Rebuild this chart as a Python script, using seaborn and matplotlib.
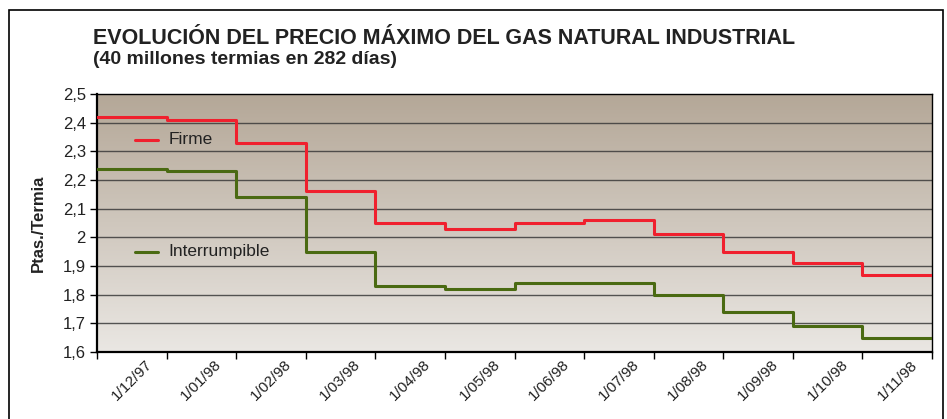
import numpy as np
import matplotlib
matplotlib.use("Agg")
import matplotlib.pyplot as plt
from matplotlib.patches import Rectangle
import seaborn as sns

# Monthly maximum price (Ptas./termia), one value per month
months = ["1/12/97", "1/01/98", "1/02/98", "1/03/98", "1/04/98", "1/05/98",
          "1/06/98", "1/07/98", "1/08/98", "1/09/98", "1/10/98", "1/11/98"]
firme = [2.42, 2.41, 2.33, 2.16, 2.05, 2.03, 2.05, 2.06, 2.01, 1.95, 1.91, 1.87]
interrumpible = [2.24, 2.23, 2.14, 1.95, 1.83, 1.82, 1.84, 1.84, 1.80, 1.74, 1.69, 1.65]
yticks = [1.6, 1.7, 1.8, 1.9, 2.0, 2.1, 2.2, 2.3, 2.4, 2.5]

sns.set_theme(style="white")
plt.rcParams["font.family"] = ["Liberation Sans Narrow", "Liberation Sans", "DejaVu Sans"]

fig = plt.figure(figsize=(9.47, 4.19), dpi=100)
fig.patch.set_facecolor("white")
ax = fig.add_axes([97 / 947, 1 - 352 / 419, (932 - 97) / 947, (352 - 94) / 419])

n = len(months)
edges = np.arange(n + 1)

# Taupe-to-light vertical gradient behind the data
top = np.array([180, 167, 151]) / 255
bot = np.array([234, 231, 227]) / 255
t = np.linspace(0, 1, 256)[:, None]
grad = (top * (1 - t) + bot * t)[:, None, :]
ax.imshow(grad, extent=[0, n, 1.6, 2.5], aspect="auto", zorder=0, origin="upper")

# Horizontal gridlines
for y in yticks[1:-1]:
    ax.axhline(y, color="#3a3a3a", lw=1.0, zorder=1, alpha=0.85)

# Step series: each value holds across its month
sns.lineplot(x=edges, y=list(firme) + [firme[-1]], drawstyle="steps-post",
             color="#f0202e", lw=2.2, ax=ax, zorder=3)
sns.lineplot(x=edges, y=list(interrumpible) + [interrumpible[-1]], drawstyle="steps-post",
             color="#4a6a12", lw=2.2, ax=ax, zorder=3)

ax.set_xlim(0, n)
ax.set_ylim(1.6, 2.5)

# Inline series labels
ax.plot([0.55, 0.88], [2.34, 2.34], color="#f0202e", lw=2.2, zorder=3)
ax.text(1.03, 2.34, "Firme", va="center", ha="left", fontsize=12.5, color="#222222")
ax.plot([0.55, 0.88], [1.95, 1.95], color="#4a6a12", lw=2.2, zorder=3)
ax.text(1.03, 1.95, "Interrumpible", va="center", ha="left", fontsize=12.5, color="#222222")

# Axes styling
ax.set_yticks(yticks)
ax.set_yticklabels([f"{v:g}".replace(".", ",") for v in yticks], fontsize=12, color="#222222")
ax.set_xticks(edges)
ax.set_xticklabels([])
ax.set_xticks(np.arange(n) + 0.5, minor=True)
ax.set_xticklabels(months, minor=True, rotation=45, ha="center", fontsize=11, color="#222222")
ax.tick_params(axis="x", which="minor", length=0, pad=4)
ax.tick_params(axis="x", which="major", direction="out", length=5, width=1, color="black", bottom=True)
ax.tick_params(axis="y", direction="out", length=5, width=1, color="black", left=True, pad=3)
for s in ["left", "bottom", "top", "right"]:
    ax.spines[s].set_visible(True)
    ax.spines[s].set_color("black")
ax.spines["left"].set_linewidth(1.6)
ax.spines["bottom"].set_linewidth(1.6)
ax.spines["top"].set_linewidth(1.0)
ax.spines["right"].set_linewidth(1.0)
ax.set_ylabel("Ptas./Termia", fontsize=12, fontweight="bold", color="#222222", labelpad=12)
ax.set_xlabel("")

# Titles
fig.text(93 / 947, 1 - 38 / 419, "EVOLUCIÓN DEL PRECIO MÁXIMO DEL GAS NATURAL INDUSTRIAL",
         fontsize=15.5, fontweight="bold", color="#222222", va="center", ha="left")
fig.text(93 / 947, 1 - 60 / 419, "(40 millones termias en 282 días)",
         fontsize=14, fontweight="bold", color="#222222", va="center", ha="left")

# Outer frame
fig.patches.append(Rectangle((9 / 947, -0.05), (943 - 9) / 947, 1.05 - 10 / 419,
                             transform=fig.transFigure, fill=False, ec="black", lw=1.2))

fig.savefig("out.png", dpi=100, facecolor="white")
